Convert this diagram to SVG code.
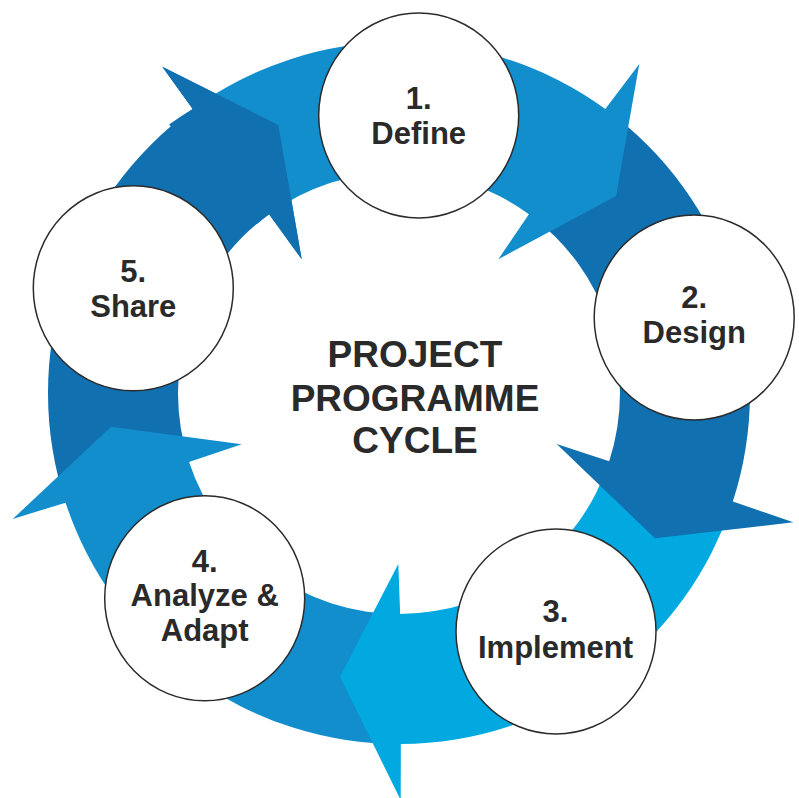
<svg xmlns="http://www.w3.org/2000/svg" width="799" height="798" viewBox="0 0 799 798">
  <style>
    .dark { fill: #1170B0; }
    .mid { fill: #128ECD; }
    .cyan { fill: #01A9E0; }
    .node ellipse { fill: #FFFFFF; stroke: #2B2B2B; stroke-width: 1.5; }
    .lbl { font-family: "Liberation Sans", Arial, sans-serif; font-weight: bold; font-size: 31px; fill: #2A2A2A; text-anchor: middle; }
    .title { font-family: "Liberation Sans", Arial, sans-serif; font-weight: bold; font-size: 37px; fill: #2A2A2A; text-anchor: middle; }
  </style>
  <rect width="799" height="798" fill="#FFFFFF"/>
  <g id="connectors">
    <path id="seg5" class="dark" d="M 65.56,502.63 A 351 351 0 0 1 192.69,109.03 L 162.3,66.7 L 278.3,125 L 301.7,259.3 L 269.10,214.21 A 221 221 0 0 0 189.06,462.03 Z"/>
    <path id="seg4" class="mid" d="M 400.84,744 A 351 351 0 0 1 65.56,502.63 L 12.7,519 L 111,426.7 L 241.7,444.3 L 189.06,462.03 A 221 221 0 0 0 400.16,614 Z"/>
    <path id="seg3" class="cyan" d="M 732.82,501.47 A 351 351 0 0 1 400.84,744 L 400.7,800 L 340,676.7 L 398.3,564 L 400.16,614 A 221 221 0 0 0 609.18,461.29 Z"/>
    <path id="seg2" class="dark" d="M 605.31,109.03 A 351 351 0 0 1 732.82,501.47 L 793.3,522.3 L 655,538.3 L 556.7,444 L 609.18,461.29 A 221 221 0 0 0 528.90,214.21 Z"/>
    <path id="seg1" class="mid" d="M 192.69,109.03 A 351 351 0 0 1 605.31,109.03 L 639.3,64 L 616,196 L 498.3,259.3 L 528.90,214.21 A 221 221 0 0 0 269.10,214.21 Z"/>
    <path id="head5" class="dark" d="M 169.14,124.38 A 351 351 0 0 1 192.69,109.03 L 162.3,66.7 L 278.3,125 L 301.7,259.3 L 269.10,214.21 A 221 221 0 0 0 256.94,223.91 Z"/>
  </g>
  <g id="node1" class="node">
    <ellipse cx="418.7" cy="115.5" rx="100" ry="102.5"/>
    <text class="lbl" x="418.7" y="109">1.</text>
    <text class="lbl" x="418.7" y="144">Define</text>
  </g>
  <g id="node2" class="node">
    <ellipse cx="694.2" cy="317.5" rx="100" ry="102.5"/>
    <text class="lbl" x="694.2" y="308.3">2.</text>
    <text class="lbl" x="694.2" y="343.3">Design</text>
  </g>
  <g id="node3" class="node">
    <ellipse cx="556" cy="631.5" rx="100" ry="102.5"/>
    <text class="lbl" x="555.5" y="622.3">3.</text>
    <text class="lbl" x="555.5" y="657.7">Implement</text>
  </g>
  <g id="node4" class="node">
    <ellipse cx="204.7" cy="598.3" rx="100" ry="102.5"/>
    <text class="lbl" x="204.7" y="571.7">4.</text>
    <text class="lbl" x="204.7" y="606">Analyze &amp;</text>
    <text class="lbl" x="204.7" y="641">Adapt</text>
  </g>
  <g id="node5" class="node">
    <ellipse cx="133.3" cy="288.3" rx="100" ry="102.5"/>
    <text class="lbl" x="133.3" y="281.7">5.</text>
    <text class="lbl" x="133.3" y="316.7">Share</text>
  </g>
  <g id="title">
    <text class="title" x="415" y="367.3">PROJECT</text>
    <text class="title" x="415" y="410.7">PROGRAMME</text>
    <text class="title" x="415" y="453.3">CYCLE</text>
  </g>
</svg>
